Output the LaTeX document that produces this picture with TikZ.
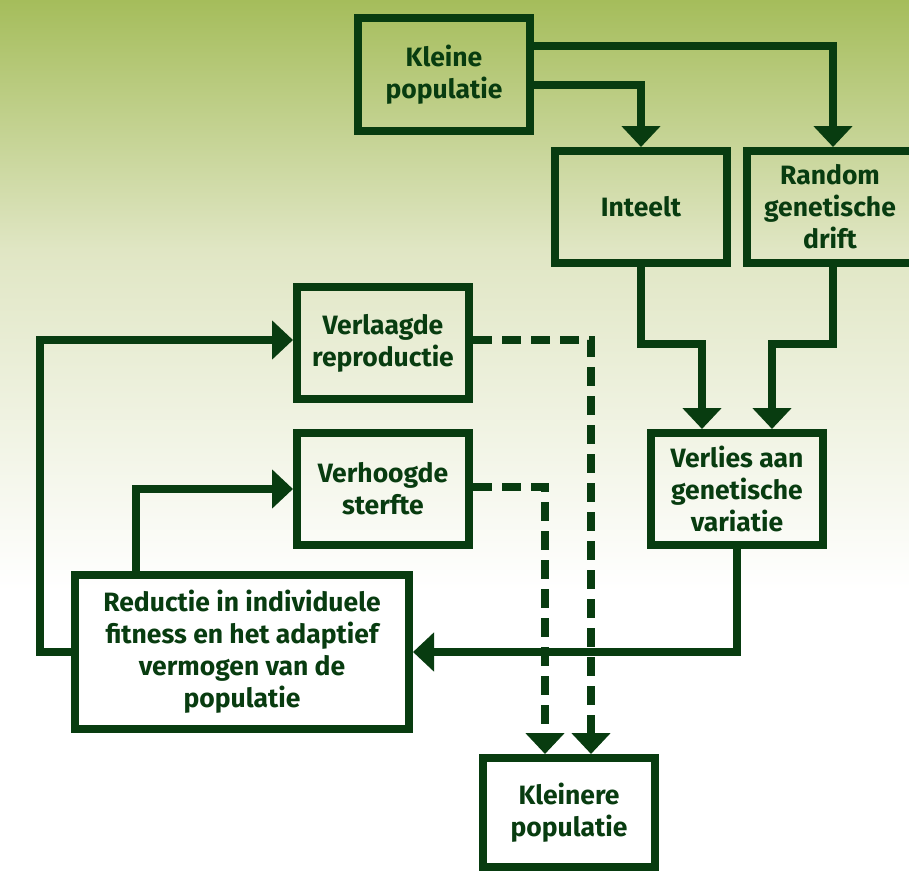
\documentclass[tikz,border=0pt]{standalone}
\usepackage{fontspec}
\setmainfont{Fira Sans}
\usetikzlibrary{arrows.meta}
\definecolor{dg}{HTML}{083C10}
\definecolor{bgtop}{HTML}{A5BD5B}
\definecolor{bgmid}{HTML}{E0E6C4}
\begin{document}
\begin{tikzpicture}[x=1pt,y=-1pt,
  box/.style={draw=dg, line width=8pt, inner sep=0pt, align=center, text=dg,
    font=\fontsize{26.5}{32}\selectfont\bfseries, minimum width=172pt, minimum height=112pt},
  conn/.style={draw=dg, line width=8pt, -{Triangle[width=38pt,length=21pt]}},
  dconn/.style={conn, dash pattern=on 19pt off 10pt}]
\useasboundingbox (0,0) rectangle (909,872);
\fill[white] (0,0) rectangle (909,872);
\shade[top color=bgtop, bottom color=bgmid] (0,0) rectangle (909,250);
\shade[top color=bgmid, bottom color=white] (0,249.5) rectangle (909,590);

\node[box] (kleine) at (444,74.5) {Kleine\\populatie};
\node[box] (inteelt) at (641,207) {Inteelt};
\node[box, minimum width=166pt] (random) at (830,207) {Random\\genetische\\drift};
\node[box] (verlaagde) at (383,343) {Verlaagde\\reproductie};
\node[box] (verhoogde) at (383,489) {Verhoogde\\sterfte};
\node[box] (verlies) at (737,489) {Verlies aan\\genetische\\variatie};
\node[box, minimum width=334pt, minimum height=154pt] (reductie) at (242,652) {Reductie in individuele\\fitness en het adaptief\\vermogen van de\\populatie};
\node[box, minimum height=109pt] (kleinere) at (569,812.5) {Kleinere\\populatie};

\coordinate (c1) at (833,46);
\coordinate (c2) at (641,85);
\coordinate (c3) at (702,344);
\coordinate (c4a) at (833,344);
\coordinate (c4b) at (772,344);
\coordinate (c6) at (40,340);
\coordinate (c7) at (136,489);
\coordinate (c8) at (591,340);
\coordinate (c9) at (545,487);

\draw[conn] (c1 -| kleine.east) -- (c1) -- (c1 |- random.north);
\draw[conn] (c2 -| kleine.east) -| (inteelt.north);
\draw[conn] (inteelt.south) |- (c3) -- (c3 |- verlies.north);
\draw[conn] (c4a |- random.south) -- (c4a) -- (c4b) -- (c4b |- verlies.north);
\draw[conn] (verlies.south) |- (reductie.east);
\draw[conn] (reductie.west) -| (c6) -- (c6 -| verlaagde.west);
\draw[conn] (c7 |- reductie.north) -- (c7) -- (verhoogde.west);
\draw[dconn] (c8 -| verlaagde.east) -- (c8) -- (c8 |- kleinere.north);
\draw[dconn] (c9 -| verhoogde.east) -- (c9) -- (c9 |- kleinere.north);
\end{tikzpicture}
\end{document}
